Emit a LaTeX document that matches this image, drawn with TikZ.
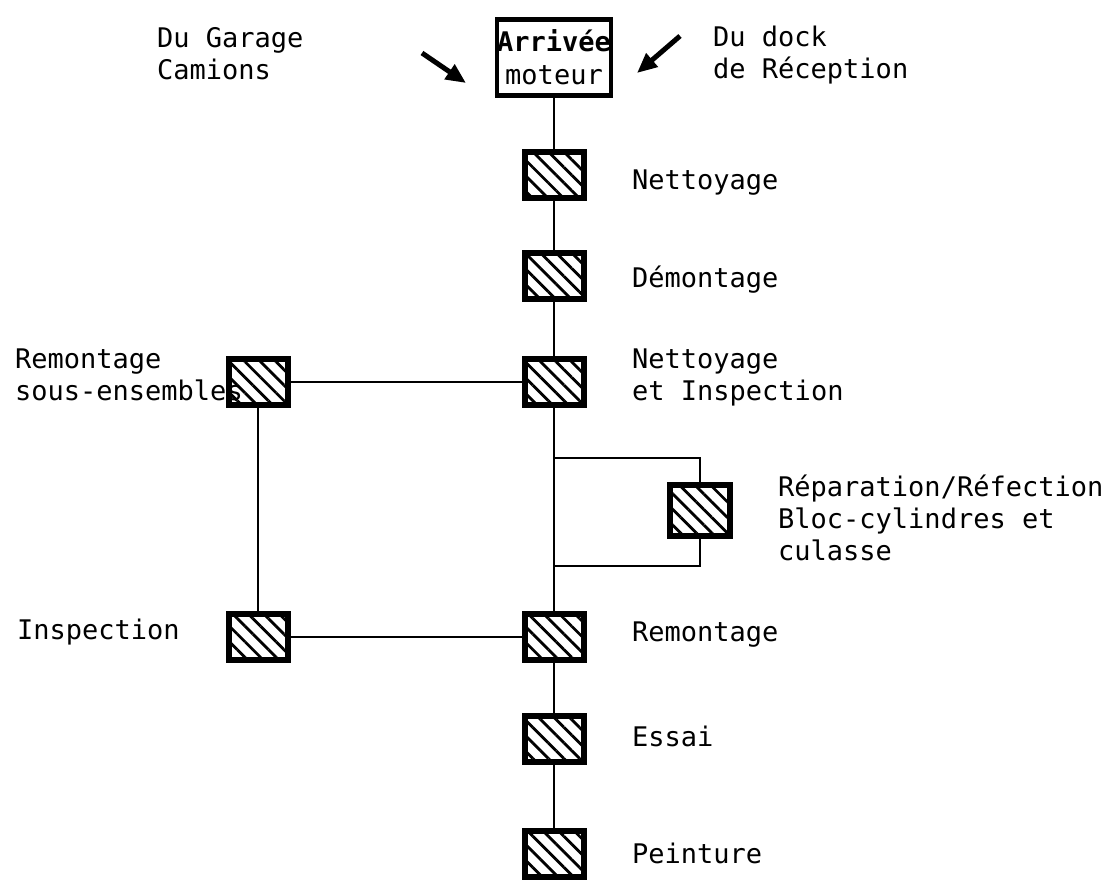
\documentclass[tikz,border=0pt]{standalone}
\usepackage{fontspec}
\setmonofont{DejaVu Sans Mono}
\usetikzlibrary{patterns.meta,arrows.meta}
\begin{document}
\begin{tikzpicture}[x=1pt,y=-1pt,
  hbox/.style={draw, line width=6pt, minimum width=59pt, minimum height=46pt, inner sep=0pt,
    pattern={Lines[angle=-45,distance=11pt,line width=2.8pt]}},
  lbl/.style={anchor=base west, inner sep=0pt, align=left, font=\ttfamily\fontsize{27}{32}\selectfont},
  conn/.style={line width=2.8pt},
  arr/.style={line width=5pt, -{Triangle[length=20pt,width=17pt]}}]
\useasboundingbox (0,0) rectangle (1108,879);
% top box
\node[draw, line width=4.5pt, minimum width=114pt, minimum height=76pt, inner sep=0pt, align=center,
  font=\ttfamily\fontsize{27}{33}\selectfont] (arr) at (554,57.5) {\textbf{Arrivée}\\moteur};
% main column
\node[hbox] (n1) at (554,175) {};
\node[hbox] (n2) at (554,276) {};
\node[hbox] (ni) at (554,382) {};
\node[hbox] (rm) at (554,637) {};
\node[hbox] (es) at (554,739) {};
\node[hbox] (pe) at (554,854) {};
% left column
\node[hbox] (rs) at (258,382) {};
\node[hbox] (ip) at (258,637) {};
% repair box
\node[hbox, minimum width=60pt, minimum height=51pt] (rp) at (700,510.5) {};
\coordinate (j1) at (554,458);
\coordinate (j2) at (554,566);
% connectors
\draw[conn] (arr) -- (n1) -- (n2) -- (ni) -- (rm) -- (es) -- (pe);
\draw[conn] (rs) -- (ni);
\draw[conn] (ip) -- (rm);
\draw[conn] (rs) -- (ip);
\draw[conn] (j1) -| (rp.north);
\draw[conn] (rp.south) |- (j2);
% arrows
\coordinate (a1s) at (422,53);
\coordinate (a1e) at (466,83);
\coordinate (a2s) at (680,36);
\coordinate (a2e) at (637,73);
\draw[arr] (a1s) -- (a1e);
\draw[arr] (a2s) -- (a2e);
% labels (base anchor = last line baseline)
\node[lbl] (t1) at (157,79) {Du Garage\\Camions};
\node[lbl] (t2) at (713,78) {Du dock\\de Réception};
\node[lbl] (t3) at (632,189) {Nettoyage};
\node[lbl] (t4) at (632,287) {Démontage};
\node[lbl] (t5) at (632,400) {Nettoyage\\et Inspection};
\node[lbl] (t6) at (15,400) {Remontage\\sous-ensembles};
\node[lbl] (t7) at (778,560) {Réparation/Réfection\\Bloc-cylindres et\\culasse};
\node[lbl] (t8) at (17,639) {Inspection};
\node[lbl] (t9) at (632,641) {Remontage};
\node[lbl] (t10) at (632,746) {Essai};
\node[lbl] (t11) at (632,863) {Peinture};
\end{tikzpicture}
\end{document}
